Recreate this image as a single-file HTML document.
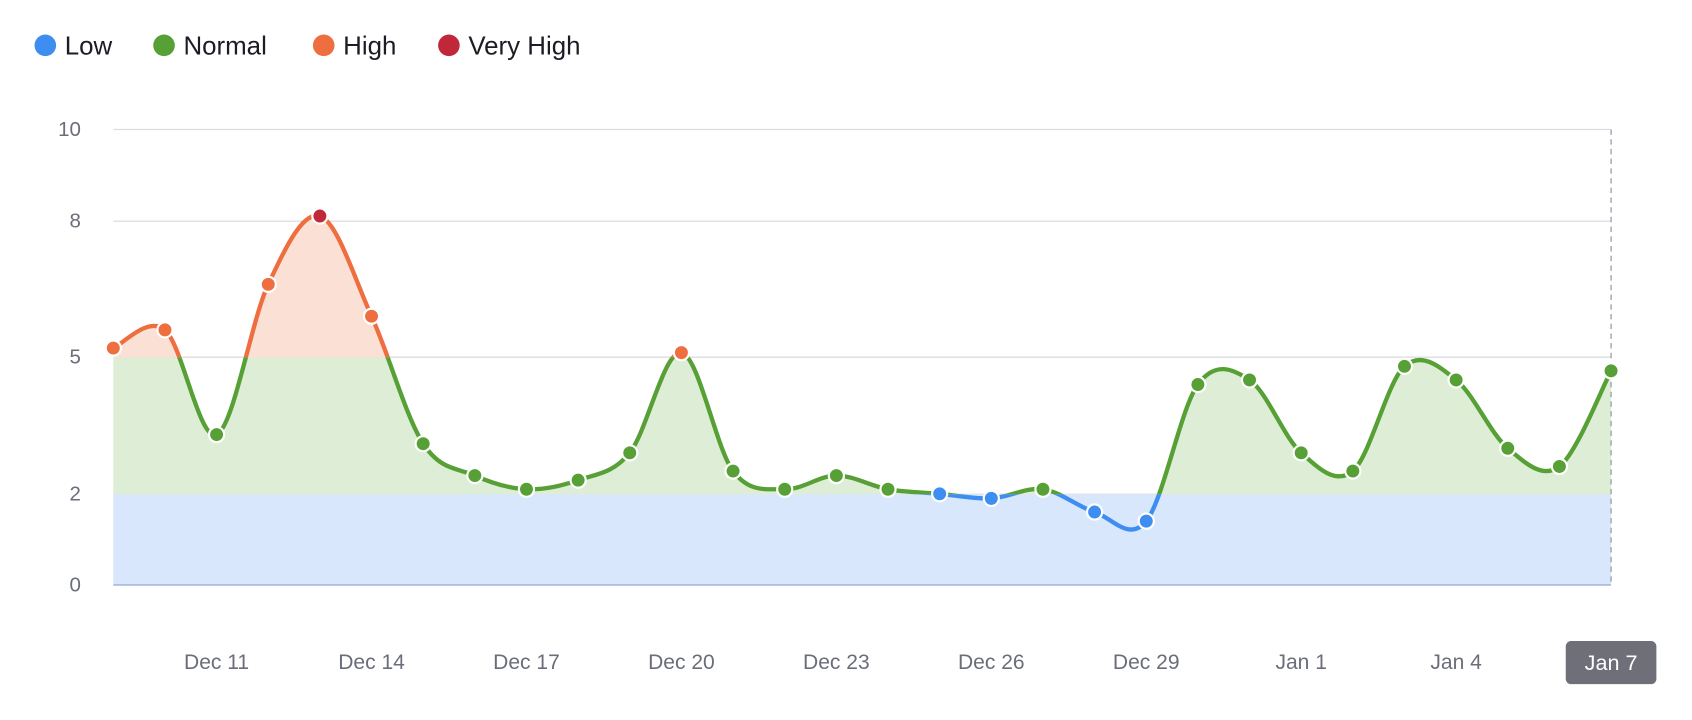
<!DOCTYPE html>
<html><head><meta charset="utf-8"><style>
html,body{margin:0;padding:0;background:#fff;}
svg{display:block;font-family:"Liberation Sans",sans-serif;}
</style></head><body>
<svg id="s" width="1692" height="720" viewBox="0 0 1568 667.2" xmlns="http://www.w3.org/2000/svg">
<defs>
<clipPath id="cb"><rect x="0" y="458" width="1600" height="300"/></clipPath>
<clipPath id="cg"><rect x="0" y="331" width="1600" height="127"/></clipPath>
<clipPath id="co"><rect x="0" y="0" width="1600" height="331"/></clipPath>
</defs>
<g font-size="24" fill="#1c1d24">
<circle cx="42" cy="42" r="10" fill="#3d8ef0"/><text x="60" y="50.5">Low</text>
<circle cx="152" cy="42" r="10" fill="#56a035"/><text x="170" y="50.5">Normal</text>
<circle cx="300" cy="42" r="10" fill="#ee6e40"/><text x="318" y="50.5">High</text>
<circle cx="416" cy="42" r="10" fill="#c0283a"/><text x="434" y="50.5">Very High</text>
</g>
<g stroke="#dcdde3" stroke-width="1.2">
<line x1="105" x2="1493" y1="120" y2="120"/><line x1="105" x2="1493" y1="205" y2="205"/>
<line x1="105" x2="1493" y1="331" y2="331"/><line x1="105" x2="1493" y1="458" y2="458"/>
</g>
<g font-size="19" fill="#6b6e7a" text-anchor="end">
<text x="75" y="126">10</text><text x="75" y="211">8</text><text x="75" y="337">5</text><text x="75" y="464">2</text><text x="75" y="548">0</text>
</g>
<g id="areas"></g>
<line x1="105" x2="1493" y1="542" y2="542" stroke="#a9b8d8" stroke-width="1.5"/>
<line x1="1493" x2="1493" y1="120" y2="542" stroke="#9a9ca6" stroke-width="1.2" stroke-dasharray="5,4"/>
<g id="lines"></g>
<g id="pts"></g>
<g font-size="19.5" fill="#6b6e7a" text-anchor="middle" id="xl"></g>
<rect x="1451" y="594" width="84" height="40" rx="5" fill="#6f6f7a"/>
<text x="1493" y="621" font-size="20" fill="#fff" text-anchor="middle">Jan 7</text>
</svg>
<script>
var v=[5.2,5.6,3.3,6.6,8.1,5.9,3.1,2.4,2.1,2.3,2.9,5.1,2.5,2.1,2.4,2.1,2.0,1.9,2.1,1.6,1.4,4.4,4.5,2.9,2.5,4.8,4.5,3.0,2.6,4.7];
var X=function(i){return 105+i*(1388/29)}, Y=function(d){return 542-d*42.2};
var P=v.map(function(d,i){return [X(i),Y(d)]});
var d="M"+P[0][0]+","+P[0][1];
for(var i=0;i<P.length-1;i++){
 var p0=P[Math.max(0,i-1)],p1=P[i],p2=P[i+1],p3=P[Math.min(P.length-1,i+2)];
 var c1=[p1[0]+(p2[0]-p0[0])/6,p1[1]+(p2[1]-p0[1])/6];
 var c2=[p2[0]-(p3[0]-p1[0])/6,p2[1]-(p3[1]-p1[1])/6];
 d+=" C"+c1+" "+c2+" "+p2;
}
var area=d+" L1493,542 L105,542 Z";
var ns="http://www.w3.org/2000/svg";
function add(g,tag,at){var e=document.createElementNS(ns,tag);for(var k in at)e.setAttribute(k,at[k]);document.getElementById(g).appendChild(e);}
add("areas","rect",{x:105,y:458,width:1388,height:84,fill:"#d8e7fc"});
add("areas","path",{d:area,fill:"#deeed6","clip-path":"url(#cg)"});
add("areas","path",{d:area,fill:"#fbe0d6","clip-path":"url(#co)"});
[["cb","#3d8ef0"],["cg","#56a035"],["co","#ee6e40"]].forEach(function(c){
 add("lines","path",{d:d,fill:"none",stroke:c[1],"stroke-width":4,"clip-path":"url(#"+c[0]+")"});
});
v.forEach(function(x,i){
 var c=x<=2?"#3d8ef0":x<=5?"#56a035":x<8?"#ee6e40":"#c0283a";
 add("pts","circle",{cx:P[i][0],cy:P[i][1],r:7,fill:c,stroke:"#fff","stroke-width":2});
});
var L=["Dec 11","Dec 14","Dec 17","Dec 20","Dec 23","Dec 26","Dec 29","Jan 1","Jan 4"];
L.forEach(function(t,k){
 var e=document.createElementNS(ns,"text");e.setAttribute("x",X(2+3*k));e.setAttribute("y",620);e.textContent=t;document.getElementById("xl").appendChild(e);
});
</script>
</body></html>
